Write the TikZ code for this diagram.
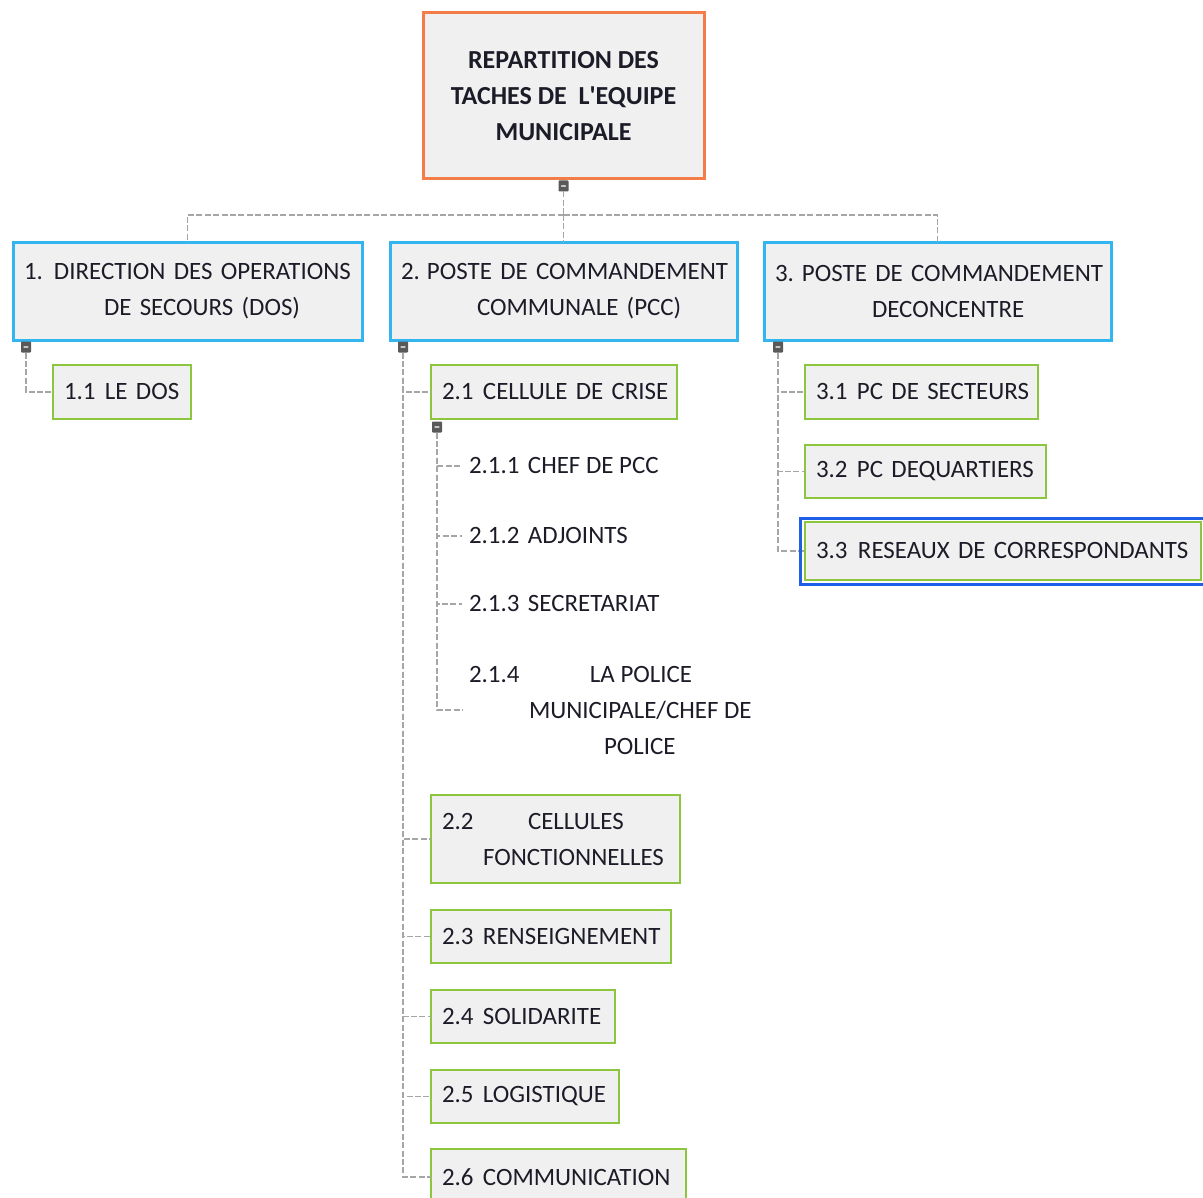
\documentclass[tikz,border=0pt]{standalone}
\usepackage{fontspec}
\setmainfont{Carlito}
\definecolor{orangeb}{HTML}{F47C48}
\definecolor{blueb}{HTML}{33B5F0}
\definecolor{greenb}{HTML}{8CC63E}
\definecolor{boxfill}{HTML}{F0F0F0}
\definecolor{handlec}{HTML}{595959}
\definecolor{connc}{HTML}{A6A6A6}
\definecolor{selc}{HTML}{1F5FE8}
\definecolor{txt}{HTML}{1C1C28}
\begin{document}
\begin{tikzpicture}[x=0.75pt,y=-0.75pt,
  base/.style={font=\fontsize{18.7}{27}\selectfont, text=txt, align=left, inner ysep=0pt, inner xsep=8.25pt, outer sep=0pt, anchor=north west},
  rootbox/.style={base, align=center, font=\fontsize{19.5}{27}\selectfont\bfseries, draw=orangeb, fill=boxfill, line width=2.25pt, minimum width=210.75pt, minimum height=124.5pt},
  lone/.style 2 args={base, draw=blueb, fill=boxfill, line width=2.25pt, text width=#1, minimum height={#2*0.75pt}},
  ltwo/.style 2 args={base, draw=greenb, fill=boxfill, line width=1.9pt, text width=#1, minimum height={#2*0.75pt}},
  plain/.style={base, anchor=west, inner xsep=5.25pt},
  handle/.style={fill=handlec, draw=none, rounded corners=0.6pt, minimum width=7.5pt, minimum height=8.25pt, inner sep=0pt, outer sep=0pt,
    path picture={\fill[white] ([xshift=-2pt,yshift=-0.5pt]path picture bounding box.center) rectangle ([xshift=2pt,yshift=0.5pt]path picture bounding box.center);}},
  conn/.style={draw=connc, line width=1.1pt, dash pattern=on 4.5pt off 1.8pt},
  sel/.style={draw=selc, line width=2.25pt}
]
\fill[white] (0,0) rectangle (1203,1198);
\useasboundingbox (0,0) rectangle (1203,1198);

% root
\node[rootbox] (root) at (423,13) {REPARTITION DES\\TACHES DE\ \ L\textquotesingle EQUIPE\\MUNICIPALE};
\node[handle] (h0) at (563.5,186) {};

% level 1
\node[lone={245.25pt}{97}] (b1) at (13,243) {\mbox{\makebox[22.5pt][l]{1.}DIRECTION DES OPERATIONS}\\\hspace*{60pt}\mbox{DE SECOURS (DOS)}};
\node[lone={243.75pt}{97}] (b2) at (390,243) {\mbox{\makebox[19.5pt][l]{2.}POSTE DE COMMANDEMENT}\\\hspace*{57pt}\mbox{COMMUNALE (PCC)}};
\node[lone={243.75pt}{97}] (b3) at (764,243) {\mbox{\makebox[20.25pt][l]{3.}POSTE DE COMMANDEMENT}\\\hspace*{72.75pt}\mbox{DECONCENTRE}};

\node[handle] (h1) at (26,347) {};
\node[handle] (h2) at (403,347) {};
\node[handle] (h3) at (778,347) {};

% branch 1
\node[ltwo={87pt}{54}] (c11) at (53,365) {\mbox{\makebox[30.75pt][l]{1.1}LE DOS}};

% branch 2
\node[ltwo={168pt}{54}] (c21) at (431,365) {\mbox{\makebox[30.75pt][l]{2.1}CELLULE DE CRISE}};
\node[handle] (h21) at (437,427) {};
\node[plain] (t211) at (462,466) {\makebox[44.25pt][l]{2.1.1}CHEF DE PCC};
\node[plain] (t212) at (462,536) {\makebox[44.25pt][l]{2.1.2}ADJOINTS};
\node[plain] (t213) at (462,604) {\makebox[44.25pt][l]{2.1.3}SECRETARIAT};
\node[plain] (t214) at (462,710) {\makebox[90.75pt][l]{2.1.4}LA POLICE\\\hspace*{45pt}MUNICIPALE/CHEF DE\\\hspace*{101.25pt}POLICE};
\node[ltwo={170.25pt}{88}] (c22) at (431,795) {\mbox{\makebox[64.5pt][l]{2.2}CELLULES}\\\hspace*{30.75pt}\mbox{FONCTIONNELLES}};
\node[ltwo={163.5pt}{53}] (c23) at (431,910) {\mbox{\makebox[30.75pt][l]{2.3}RENSEIGNEMENT}};
\node[ltwo={121.5pt}{53}] (c24) at (431,990) {\mbox{\makebox[30.75pt][l]{2.4}SOLIDARITE}};
\node[ltwo={124.5pt}{53}] (c25) at (431,1070) {\mbox{\makebox[30.75pt][l]{2.5}LOGISTIQUE}};
\node[ltwo={174.75pt}{56}] (c26) at (431,1149) {\mbox{\makebox[30.75pt][l]{2.6}COMMUNICATION}};

% branch 3
\node[ltwo={158.25pt}{54}] (c31) at (805,365) {\mbox{\makebox[30.75pt][l]{3.1}PC DE SECTEURS}};
\node[ltwo={164.25pt}{53}] (c32) at (805,445) {\mbox{\makebox[30.75pt][l]{3.2}PC DEQUARTIERS}};
\node[ltwo={280.5pt}{58}] (c33) at (805,522) {\mbox{\makebox[31.5pt][l]{3.3}RESEAUX DE CORRESPONDANTS}};

% connectors
\coordinate (j0) at (563.5,215);
\draw[conn] (h0.south) -- (j0);
\draw[conn] (j0) -| (b1.north);
\draw[conn] (j0) -| (b3.north);
\draw[conn] (j0) -- (b2.north);

\draw[conn] (h1.south) |- (c11.west);

\draw[conn] (h2.south) |- (c21.west);
\draw[conn] (h2.south) |- (c22.west);
\draw[conn] (h2.south) |- (c23.west);
\draw[conn] (h2.south) |- (c24.west);
\draw[conn] (h2.south) |- (c25.west);
\draw[conn] (h2.south) |- (c26.west);

\draw[conn] (h21.south) |- (t211.west);
\draw[conn] (h21.south) |- (t212.west);
\draw[conn] (h21.south) |- (t213.west);
\draw[conn] (h21.south) |- (t214.west);

\draw[conn] (h3.south) |- (c31.west);
\draw[conn] (h3.south) |- (c32.west);
\draw[conn] (h3.south) |- (c33.west);

% selection frame
\draw[sel] ([xshift=-3.75pt,yshift=3pt]c33.north west) rectangle ([xshift=2.25pt,yshift=-3pt]c33.south east);
\end{tikzpicture}
\end{document}
